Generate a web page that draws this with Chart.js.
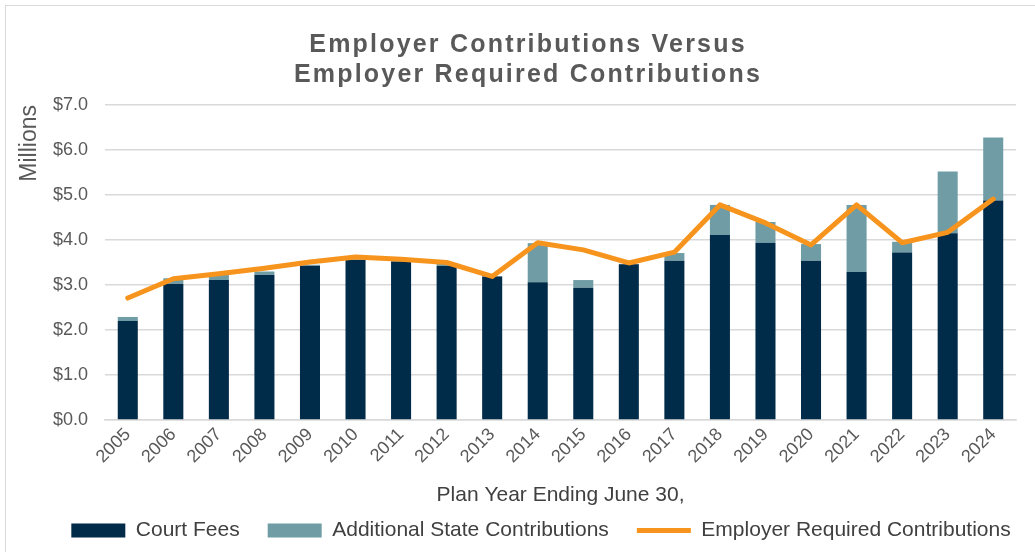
<!DOCTYPE html>
<html>
<head>
<meta charset="utf-8">
<title>Employer Contributions Versus Employer Required Contributions</title>
<script src="https://cdn.jsdelivr.net/npm/chart.js@4.4.1/dist/chart.umd.min.js"></script>
<style>
  html, body { margin: 0; padding: 0; background: #fff; overflow: hidden; }
  #frame { position: absolute; left: 5px; top: 5px; width: 1100px; height: 600px; border: 1px solid #d9d9d9; }
  #wrap { position: absolute; left: 0; top: 0; width: 1035px; height: 552px; }
</style>
</head>
<body>
<div id="frame"></div>
<div id="wrap"><canvas id="chart"></canvas></div>
<script>
// plan years ending June 30
const years = ['2005', '2006', '2007', '2008', '2009', '2010', '2011', '2012', '2013', '2014',
               '2015', '2016', '2017', '2018', '2019', '2020', '2021', '2022', '2023', '2024'];

// $ millions
const courtFees = [2.20, 3.03, 3.11, 3.23, 3.43, 3.56, 3.52, 3.42, 3.19, 3.06,
                   2.94, 3.46, 3.54, 4.11, 3.94, 3.54, 3.29, 3.72, 4.15, 4.88];
const additionalState = [0.09, 0.12, 0.13, 0.07, 0.02, 0.01, 0.02, 0.07, 0.01, 0.87,
                         0.17, 0.01, 0.17, 0.67, 0.46, 0.37, 1.49, 0.24, 1.37, 1.40];
const requiredContrib = [2.71, 3.14, 3.25, 3.37, 3.51, 3.62, 3.57, 3.50, 3.19, 3.94,
                         3.78, 3.49, 3.73, 4.78, 4.38, 3.89, 4.78, 3.94, 4.17, 4.91];

const yTicks = [0, 1, 2, 3, 4, 5, 6, 7];
const titleLines = ['Employer Contributions Versus', 'Employer Required Contributions'];

const NAVY = '#002b49';
const TEAL = '#6f9ca5';
const ORANGE = '#f7941d';
const GRID = '#d9d9d9';
const TEXT = '#595959';
const FONT = "'Liberation Sans', Arial, sans-serif";

const LEGEND_PAD = 28;

/* ---------- TITLE (spaced lettering) ---------- */
const spacedTitle = {
  id: 'spacedTitle',
  afterDraw(chart) {
    const ctx = chart.ctx;
    ctx.save();
    ctx.font = 'bold 25px ' + FONT;
    ctx.fillStyle = TEXT;
    ctx.textAlign = 'center';
    ctx.textBaseline = 'middle';
    ctx.letterSpacing = '2.2px';
    titleLines.forEach((line, i) => ctx.fillText(line, 528, 45 + i * 30));
    ctx.restore();
  }
};

/* ---------- LEGEND PLACEMENT ---------- */
// the legend only reserves one row height; its box is then moved/grown so the row sits in place
const legendPlace = {
  id: 'legendPlace',
  afterLayout(chart) {
    const lg = chart.legend;
    if (!lg) return;
    lg.left += 25;
    lg.right += 25;
    lg.top = 520 - LEGEND_PAD;
    lg.bottom = chart.height;
    lg.height = lg.bottom - lg.top;
  }
};

new Chart(document.getElementById('chart'), {
  type: 'bar',
  plugins: [spacedTitle, legendPlace],
  data: {
    labels: years,
    datasets: [
      {
        label: 'Court Fees',
        data: courtFees,
        backgroundColor: NAVY,
        borderWidth: 0,
        stack: 'paid',
        pointStyle: 'rect',
        order: 1
      },
      {
        label: 'Additional State Contributions',
        data: additionalState,
        backgroundColor: TEAL,
        borderWidth: 0,
        stack: 'paid',
        pointStyle: 'rect',
        order: 1
      },
      {
        type: 'line',
        label: 'Employer Required Contributions',
        data: requiredContrib,
        borderColor: ORANGE,
        backgroundColor: ORANGE,
        borderWidth: 5,
        borderCapStyle: 'round',
        borderJoinStyle: 'round',
        tension: 0,
        pointRadius: 0,
        pointStyle: 'line',
        stack: 'required',
        order: 0
      }
    ]
  },
  options: {
    responsive: true,
    maintainAspectRatio: false,
    animation: false,
    layout: { padding: { top: 105, left: 16, right: 19, bottom: 9 } },
    datasets: {
      bar: { barPercentage: 0.44, categoryPercentage: 1 }
    },
    plugins: {
      title: { display: false },
      tooltip: { enabled: false },
      legend: {
        position: 'bottom',
        maxHeight: 31,
        labels: {
          usePointStyle: true,
          pointStyleWidth: 54,
          boxHeight: 14,
          padding: LEGEND_PAD,
          color: '#404040',
          font: { family: FONT, size: 21 },
          sort: (a, b) => a.datasetIndex - b.datasetIndex
        }
      }
    },
    scales: {
      x: {
        stacked: true,
        grid: { display: false, drawTicks: false },
        border: { color: GRID, width: 1.5 },
        ticks: {
          color: TEXT,
          font: { family: FONT, size: 18 },
          minRotation: 45,
          maxRotation: 45,
          padding: 4
        },
        title: {
          display: true,
          text: 'Plan Year Ending June 30,',
          color: '#404040',
          font: { family: FONT, size: 21 },
          padding: { top: 0, bottom: 4 }
        },
        afterFit(scale) { scale.height = 92; }
      },
      y: {
        stacked: true,
        min: 0,
        max: 7,
        grid: { color: GRID, lineWidth: 1.5, drawTicks: false },
        border: { display: false },
        afterBuildTicks(scale) { scale.ticks = yTicks.map(v => ({ value: v })); },
        ticks: {
          color: TEXT,
          padding: 17,
          font: { family: FONT, size: 18 },
          callback: v => '$' + Number(v).toFixed(1)
        },
        title: {
          display: true,
          text: 'Millions',
          align: 'end',
          color: TEXT,
          font: { family: FONT, size: 23 },
          padding: { top: 0, bottom: 4 }
        },
        afterFit(scale) { scale.width = 89; }
      }
    }
  }
});
</script>
</body>
</html>
